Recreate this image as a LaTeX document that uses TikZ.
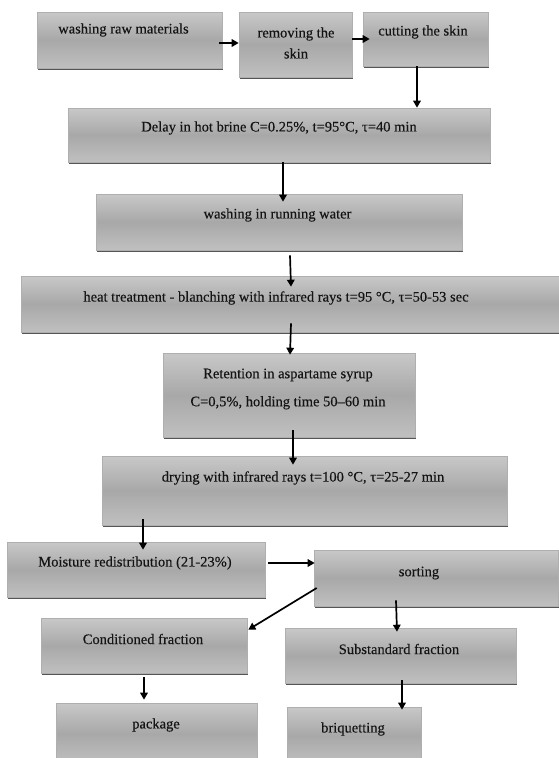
\documentclass[tikz,border=0pt]{standalone}
\usepackage{fontspec}
\setmainfont{Liberation Serif}[FakeBold=0]
\newfontfamily\boxfont{Liberation Serif}[FakeBold=0.3]
\usetikzlibrary{calc,fit,shadows,arrows.meta}
\definecolor{boxtop}{RGB}{200,200,200}
\definecolor{boxmid}{RGB}{168,168,168}
\definecolor{boxbot}{RGB}{192,192,192}
\definecolor{boxedge}{RGB}{175,175,175}
\definecolor{boxshadow}{RGB}{85,85,85}
\definecolor{txt}{RGB}{20,20,20}
\tikzset{
  flowbox/.style={inner sep=0pt, draw=boxedge, line width=0.6pt,
    top color=boxtop, bottom color=boxbot, middle color=boxmid,
    drop shadow={shadow xshift=1.2pt, shadow yshift=-2.2pt, fill=boxshadow, opacity=1}},
  lbl/.style={inner sep=0pt, font=\boxfont\fontsize{14.5}{21}\selectfont, text=txt, align=center},
  arr/.style={line width=1.7pt, -{Triangle[length=7pt,width=7.5pt]}}
}
\begin{document}
\begin{tikzpicture}[x=1pt,y=-1pt]
\useasboundingbox (0,0) rectangle (559,758);
% boxes
\node[flowbox, fit={(37,12) (222,68)}] (b1) {};
\node[flowbox, fit={(239,12) (352,77)}] (b2) {};
\node[flowbox, fit={(363,12) (488,66)}] (b3) {};
\node[flowbox, fit={(68,108) (490,162)}] (b4) {};
\node[flowbox, fit={(96,194) (462,250)}] (b5) {};
\node[flowbox, fit={(21,276) (562,332)}] (b6) {};
\node[flowbox, fit={(163,353) (415,437)}] (b7) {};
\node[flowbox, fit={(102,456) (507,525)}] (b8) {};
\node[flowbox, fit={(7,542) (265,597)}] (b9) {};
\node[flowbox, fit={(314,550) (558,606)}] (b10) {};
\node[flowbox, fit={(41,618) (247,673)}] (b11) {};
\node[flowbox, fit={(285,628) (516,683)}] (b12) {};
\node[flowbox, fit={(56,703) (257,764)}] (b13) {};
\node[flowbox, fit={(287,707) (421,764)}] (b14) {};
% texts
\node[lbl] (t1) at (123.5,30) {washing raw materials};
\node[lbl] (t2) at (296,43) {removing the\\skin};
\node[lbl] (t3) at (423,32) {cutting the skin};
\node[lbl] (t4) at (279,128) {Delay in hot brine C=0.25\%, t=95°C, τ=40 min};
\node[lbl] (t5) at (277.5,215) {washing in running water};
\node[lbl] (t6) at (276,298) {heat treatment - blanching with infrared rays t=95 °C, τ=50-53 sec};
\node[lbl, font=\boxfont\fontsize{14.5}{28}\selectfont] (t7) at (288,389) {Retention in aspartame syrup\\C=0,5\%, holding time 50–60 min};
\node[lbl] (t8) at (303,478) {drying with infrared rays t=100 °C, τ=25-27 min};
\node[lbl] (t9) at (135,563) {Moisture redistribution (21-23\%)};
\node[lbl] (t10) at (419,573) {sorting};
\node[lbl] (t11) at (143,639) {Conditioned fraction};
\node[lbl] (t12) at (399,649) {Substandard fraction};
\node[lbl] (t13) at (156,725) {package};
\node[lbl] (t14) at (353,729) {briquetting};
% arrows
\draw[arr] ($(b1.east)+(-3,3)$) -- ($(b2.west)+(0,-1.5)$);
\draw[arr] (b2.east |- b3.west) -- ($(b3.west)+(7,0)$);
\draw[arr] ($(b3.south)+(-8.5,0)$) -- ($(b4.north)+(138,0)$);
\draw[arr] ($(b4.south)+(4,0)$) -- ($(b5.north)+(4,8)$);
\draw[arr] ($(b5.south)+(11,5)$) -- ($(b6.north)+(-0.5,11)$);
\draw[arr] ($(b6.south)+(-0.5,-9)$) -- ($(b7.north)+(1,2)$);
\draw[arr] ($(b7.south)+(4,-7)$) -- ($(b8.north)+(-11.5,9)$);
\draw[arr] ($(b8.south)+(-161.5,-6)$) -- ($(b9.north)+(7,8)$);
\draw[arr] ($(b9.east)+(3,-6.5)$) -- ($(b10.west)+(1,-15)$);
\draw[arr] ($(b10.west)+(3,10)$) -- ($(b11.north east)+(1,12)$);
\draw[arr] ($(b10.south)+(-40,-6)$) -- ($(b12.north)+(-3.5,4)$);
\draw[arr] ($(b11.south)+(0,4)$) -- ($(b13.north)+(-12.5,-3)$);
\draw[arr] ($(b12.south)+(1.5,-3)$) -- ($(b14.north)+(48,3)$);
\end{tikzpicture}
\end{document}
